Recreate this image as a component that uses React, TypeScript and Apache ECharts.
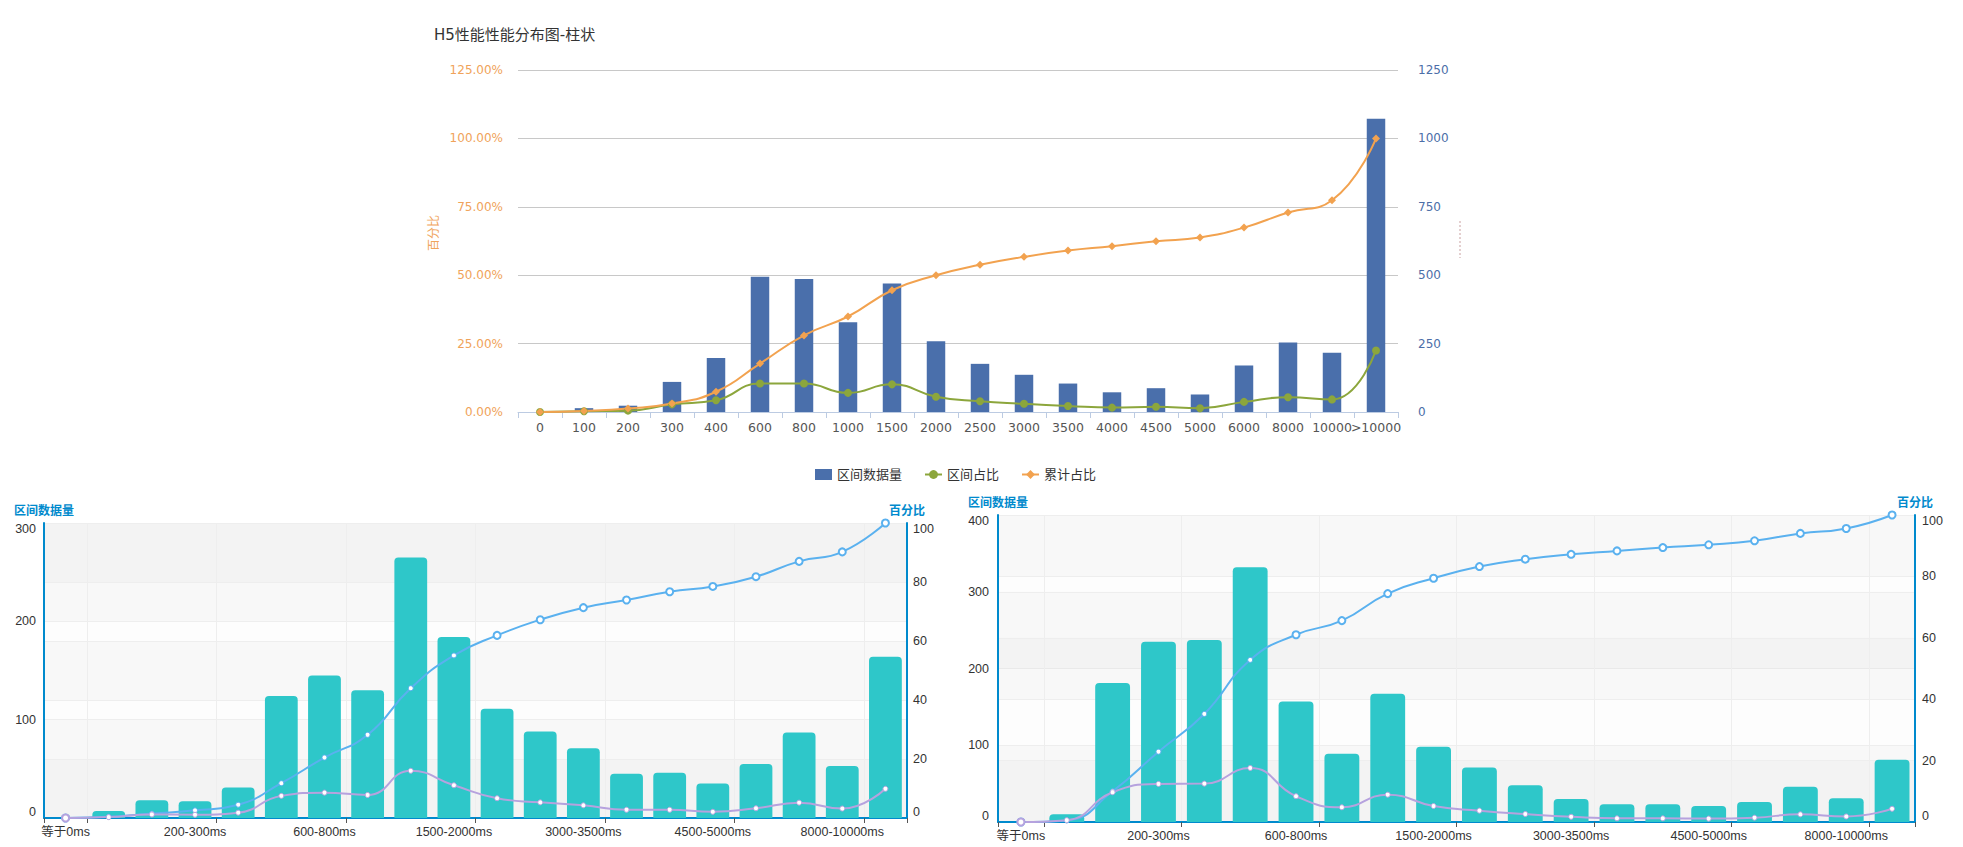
import React, { useEffect, useRef } from "react";
import * as echarts from "echarts";

// ---------- Top chart data ----------
const topCategories = ["0", "100", "200", "300", "400", "600", "800", "1000", "1500", "2000", "2500", "3000", "3500", "4000", "4500", "5000", "6000", "8000", "10000", ">10000"];
const topCounts = [0, 14, 23, 110, 197, 494, 486, 328, 470, 259, 176, 136, 104, 72, 87, 64, 170, 254, 217, 1072];
const topRatio = [0, 0.3, 0.5, 2.8, 4.3, 10.4, 10.4, 7.0, 10.1, 5.6, 3.9, 3.0, 2.2, 1.6, 1.9, 1.4, 3.7, 5.4, 4.6, 22.5];
const topCumulative = [0, 0.4, 1.3, 3.1, 7.4, 17.7, 28.0, 34.9, 44.5, 50.0, 53.8, 56.7, 59.0, 60.6, 62.4, 63.8, 67.4, 72.9, 77.4, 100];

// ---------- Bottom charts data ----------
const bottomCategories = ["等于0ms", "0-100ms", "100-200ms", "200-300ms", "300-400ms", "400-600ms", "600-800ms", "800-1000ms", "1000-1500ms", "1500-2000ms", "2000-2500ms", "2500-3000ms", "3000-3500ms", "3500-4000ms", "4000-4500ms", "4500-5000ms", "5000-6000ms", "6000-8000ms", "8000-10000ms", "大于10000ms"];

const leftCounts = [0, 7, 18, 17, 31, 124, 145, 130, 265, 184, 111, 88, 71, 45, 46, 35, 55, 87, 53, 164];
const leftRatio = [0, 0.3, 1.2, 1.1, 1.8, 7.5, 8.6, 7.8, 16.0, 11.1, 6.7, 5.3, 4.3, 2.8, 2.8, 2.1, 3.3, 5.2, 3.2, 9.9];
const leftCumulative = [0, 0.4, 1.5, 2.6, 4.5, 11.8, 20.5, 28.2, 44.0, 55.1, 61.9, 67.2, 71.3, 73.9, 76.7, 78.5, 81.8, 87.0, 90.2, 100];

const rightCounts = [0, 10, 181, 235, 237, 332, 157, 89, 167, 98, 71, 48, 30, 23, 23, 21, 26, 46, 31, 81];
const rightRatio = [0, 0.6, 9.7, 12.4, 12.5, 17.6, 8.4, 4.8, 8.9, 5.2, 3.7, 2.6, 1.7, 1.2, 1.2, 1.1, 1.4, 2.5, 1.8, 4.3];
const rightCumulative = [0, 0.5, 10.0, 22.9, 35.2, 52.8, 61.0, 65.6, 74.4, 79.4, 83.2, 85.6, 87.2, 88.3, 89.4, 90.3, 91.6, 94.0, 95.6, 100];

const TOP_FONT = '"DejaVu Sans", "Noto Sans CJK SC", sans-serif';
const BOT_FONT = '"Liberation Sans", "Noto Sans CJK SC", sans-serif';
const MAC_BLUE = "#008acd";

function pointData(values: number[], counts: number[], countMax: number, pctMax: number) {
  return values.map((v, i) => {
    const inside = v / pctMax < counts[i] / countMax;
    return {
      value: v,
      symbolSize: inside ? 5 : 7,
      itemStyle: { borderWidth: inside ? 1 : 2 },
    };
  });
}

const tickFn = (i: number) => i === 0 || i % 3 === 1;
const splitFn = (i: number) => i % 3 === 1;

function bottomX(gridIndex: number) {
  return {
    type: "category",
    gridIndex,
    data: bottomCategories,
    boundaryGap: true,
    axisLine: { show: true, lineStyle: { color: MAC_BLUE, width: 2 } },
    axisTick: { show: true, interval: tickFn, length: 5, lineStyle: { color: "#555" } },
    axisLabel: { interval: 2, color: "#333", fontSize: 12.5, margin: 8, fontFamily: BOT_FONT },
    splitLine: { show: true, interval: splitFn, lineStyle: { color: "#eee" } },
  };
}

function bottomY(gridIndex: number, position: string, max: number, interval: number, name: string, margin: number) {
  return {
    type: "value",
    gridIndex,
    position,
    min: 0,
    max,
    interval,
    name,
    nameLocation: "end",
    nameGap: 6,
    nameTextStyle: { color: MAC_BLUE, fontSize: 12, fontWeight: "bold", fontFamily: BOT_FONT },
    axisLine: { show: true, lineStyle: { color: MAC_BLUE, width: 2 } },
    axisTick: { show: false },
    axisLabel: {
      color: "#333",
      fontSize: 12.5,
      margin,
      fontFamily: BOT_FONT,
      verticalAlignMinLabel: "bottom",
      verticalAlignMaxLabel: "top",
    },
    splitLine: { show: true, lineStyle: { color: "#eee" } },
    splitArea: { show: true, areaStyle: { color: ["rgba(200,200,200,0.1)", "rgba(250,250,250,0.1)"] } },
  };
}

function bottomSeries(xi: number, yl: number, yr: number, counts: number[], ratio: number[], cum: number[], countMax: number) {
  return [
    {
      name: "区间数据量",
      type: "bar",
      xAxisIndex: xi,
      yAxisIndex: yl,
      data: counts,
      barCategoryGap: "24%",
      itemStyle: { color: "#2ec7c9", borderRadius: [4, 4, 0, 0] },
    },
    {
      name: "累计占比",
      type: "line",
      xAxisIndex: xi,
      yAxisIndex: yr,
      smooth: true,
      symbol: "circle",
      data: pointData(cum, counts, countMax, 100),
      lineStyle: { color: "#5ab1ef", width: 2 },
      itemStyle: { color: "#fff", borderColor: "#5ab1ef" },
    },
    {
      name: "区间占比",
      type: "line",
      xAxisIndex: xi,
      yAxisIndex: yr,
      smooth: true,
      symbol: "circle",
      data: pointData(ratio, counts, countMax, 100),
      lineStyle: { color: "#b6a2de", width: 2 },
      itemStyle: { color: "#fff", borderColor: "#b6a2de" },
    },
  ];
}

export default function App() {
  const ref = useRef<HTMLDivElement>(null);

  useEffect(() => {
    if (!ref.current) return;
    const chart = echarts.init(ref.current, undefined, { renderer: "svg" });
    const option: any = {
      animation: false,
      backgroundColor: "#fff",
      title: {
        text: "H5性能性能分布图-柱状",
        left: 429,
        top: 22,
        textStyle: { fontSize: 15, color: "#333", fontWeight: "normal", fontFamily: TOP_FONT },
      },
      legend: {
        data: [
          { name: "区间数据量", icon: "rect" },
          { name: "区间占比" },
          { name: "累计占比" },
        ],
        left: 810,
        top: 463,
        itemWidth: 17,
        itemHeight: 11,
        itemGap: 22,
        textStyle: { fontSize: 13, color: "#333", fontFamily: TOP_FONT },
      },
      graphic: [
        {
          type: "line",
          shape: { x1: 1460, y1: 221, x2: 1460, y2: 258 },
          style: { stroke: "#c9a0a0", lineWidth: 1, lineDash: [2, 2] },
        },
      ],
      grid: [
        { left: 518, top: 70, width: 880, height: 342, outerBoundsMode: "none" },
        { left: 44, top: 523, width: 863, height: 295, outerBoundsMode: "none" },
        { left: 998, top: 515, width: 917, height: 307, outerBoundsMode: "none" },
      ],
      xAxis: [
        {
          type: "category",
          gridIndex: 0,
          data: topCategories,
          boundaryGap: true,
          axisLine: { show: true, lineStyle: { color: "#bccbe2", width: 1 } },
          axisTick: { show: true, length: 6, lineStyle: { color: "#bccbe2" } },
          axisLabel: { interval: 0, color: "#555", fontSize: 12.5, margin: 9, fontFamily: TOP_FONT },
          splitLine: { show: false },
        },
        bottomX(1),
        bottomX(2),
      ],
      yAxis: [
        {
          type: "value",
          gridIndex: 0,
          position: "left",
          min: 0,
          max: 125,
          interval: 25,
          name: "百分比",
          nameLocation: "middle",
          nameGap: 78,
          nameTextStyle: { color: "#f0a35a", fontSize: 12, fontFamily: TOP_FONT, padding: [0, 0, 0, 16] },
          axisLine: { show: false },
          axisTick: { show: false },
          axisLabel: {
            color: "#f0a35a",
            fontSize: 12,
            margin: 15,
            fontFamily: TOP_FONT,
            formatter: (v: number) => v.toFixed(2) + "%",
          },
          splitLine: { show: true, lineStyle: { color: "#c8c8c8" } },
        },
        {
          type: "value",
          gridIndex: 0,
          position: "right",
          min: 0,
          max: 1250,
          interval: 250,
          axisLine: { show: false },
          axisTick: { show: false },
          axisLabel: {
            color: "#4c6ea8",
            fontSize: 12,
            margin: 20,
            fontFamily: TOP_FONT,
            formatter: (v: number) => String(v),
          },
          splitLine: { show: false },
        },
        bottomY(1, "left", 300, 100, "区间数据量", 8),
        bottomY(1, "right", 100, 20, "百分比", 6),
        bottomY(2, "left", 400, 100, "区间数据量", 9),
        bottomY(2, "right", 100, 20, "百分比", 7),
      ],
      series: [
        {
          name: "区间数据量",
          type: "bar",
          xAxisIndex: 0,
          yAxisIndex: 1,
          data: topCounts,
          barWidth: "42%",
          itemStyle: { color: "#4a6fab" },
        },
        {
          name: "区间占比",
          type: "line",
          xAxisIndex: 0,
          yAxisIndex: 0,
          data: topRatio,
          smooth: true,
          symbol: "circle",
          symbolSize: 8,
          lineStyle: { color: "#8ca63c", width: 2 },
          itemStyle: { color: "#8ca63c" },
        },
        {
          name: "累计占比",
          type: "line",
          xAxisIndex: 0,
          yAxisIndex: 0,
          data: topCumulative,
          smooth: true,
          symbol: "diamond",
          symbolSize: 8,
          lineStyle: { color: "#f2a24f", width: 2 },
          itemStyle: { color: "#f2a24f" },
        },
        ...bottomSeries(1, 2, 3, leftCounts, leftRatio, leftCumulative, 300),
        ...bottomSeries(2, 4, 5, rightCounts, rightRatio, rightCumulative, 400),
      ],
    };
    chart.setOption(option);
    return () => chart.dispose();
  }, []);

  return (
    <div
      ref={ref}
      style={{ position: "absolute", left: 0, top: 0, width: 1963, height: 847 }}
    />
  );
}
